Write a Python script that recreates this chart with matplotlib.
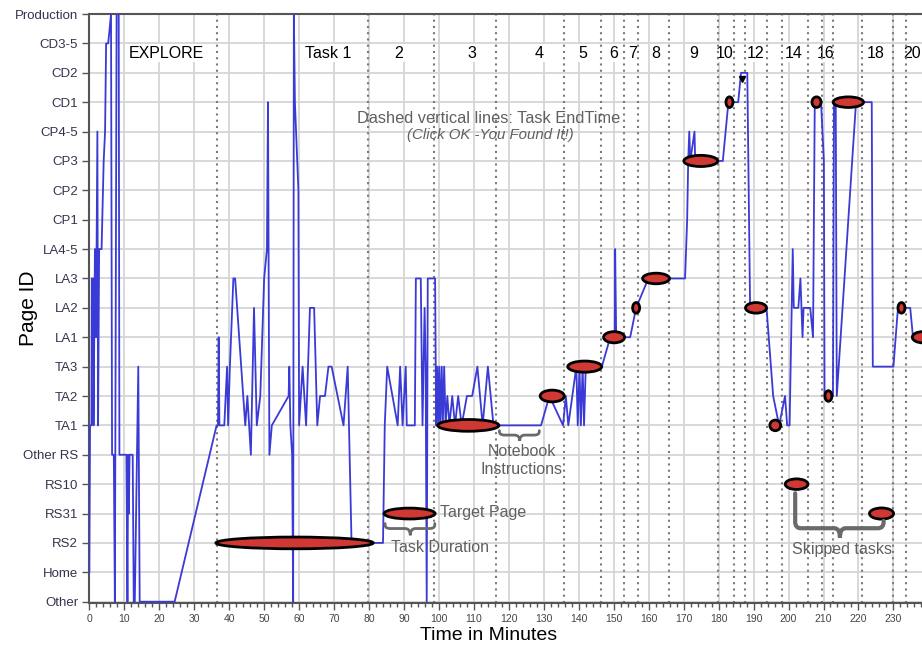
import numpy as np
import matplotlib
matplotlib.use("Agg")
import matplotlib.pyplot as plt
from matplotlib.patches import Ellipse, PathPatch
from matplotlib.path import Path

plt.rcParams['font.family'] = ['Liberation Sans', 'DejaVu Sans']

page_labels = ['Other', 'Home', 'RS2', 'RS31', 'RS10', 'Other RS', 'TA1', 'TA2', 'TA3',
               'LA1', 'LA2', 'LA3', 'LA4-5', 'CP1', 'CP2', 'CP3', 'CP4-5', 'CD1', 'CD2',
               'CD3-5', 'Production']

# page visits (minute, page index) - explore phase
explore_time = [0.0, 0.2, 0.6, 0.7, 1.1, 1.2, 1.6, 1.9, 2.3, 2.5, 2.8, 3.5, 4.1, 4.5, 4.8,
                5.4, 6.2, 6.5, 7.0, 7.3, 7.8, 8.4, 8.6, 10.6, 10.9, 11.1, 11.3, 11.5, 12.4, 12.7,
                13.0, 14.0, 14.4, 24.4, 36.4]
explore_page = [1, 6, 6, 11, 11, 6, 12, 9, 16, 6, 12, 12, 15, 16, 19,
                19, 20, 5, 5, 0, 20, 20, 5, 5, 0, 5, 3, 5, 5, 0,
                0, 8, 0, 0, 6]

task1_time = [36.8, 37.0, 37.2, 38.6, 39.0, 39.4, 39.7, 40.2, 41.2, 41.7, 44.6, 45.2, 46.2, 47.1, 47.9,
              48.9, 50.0, 50.8, 51.1, 51.5, 52.2, 57.0, 57.2, 57.5, 58.0, 58.3, 58.5, 58.8, 59.8, 60.0,
              61.0, 62.0, 63.1, 64.3, 65.2, 66.0, 67.4, 68.4, 69.3, 72.7, 73.9, 75.0]
task1_page = [6, 9, 6, 6, 7, 8, 6, 8, 11, 11, 6, 7, 5, 10, 6,
              7, 11, 12, 17, 5, 6, 7, 8, 6, 5, 0, 20, 17, 14, 6,
              8, 6, 10, 10, 6, 7, 7, 8, 8, 6, 8, 2]

task2_time = [84.0, 84.5, 85.2, 88.2, 88.9, 89.6, 90.5, 90.8, 93.1, 93.4, 94.8, 95.3, 95.9, 96.2, 96.5,
              96.8, 98.9, 99.2, 99.5, 99.8, 100.1, 100.4, 100.8, 101.1, 101.5, 101.9, 102.4, 103.0,
              103.8, 104.6, 105.5, 106.5, 108.0, 109.5, 111.0, 112.5, 114.0, 115.6]
task2_page = [2, 6, 8, 6, 8, 6, 8, 6, 6, 11, 11, 6, 10, 8, 0,
              11, 11, 6, 8, 6, 8, 6, 8, 6, 8, 6, 7, 6,
              7, 6, 7, 6, 7, 7, 8, 6, 8, 6]

later_time = [129.2, 131.6, 135.5, 136.3, 137.0, 139.3, 139.7, 140.2, 140.6, 141.1, 141.5, 142.0,
              146.6, 149.0, 150.3, 150.4, 150.7, 151.2, 154.7, 156.4, 159.9, 170.4, 171.0, 171.3,
              171.6, 171.9, 173.1, 173.3, 181.2, 182.8, 185.6, 186.4, 188.2, 189.0, 193.7, 195.6,
              197.3, 199.0, 199.6, 200.3, 201.2, 201.5, 202.8, 203.4, 204.0, 204.3, 206.2, 207.0,
              207.5, 209.3, 210.1, 210.3, 212.7, 213.0, 213.5, 213.8, 219.3, 223.8, 224.1, 230.0,
              231.3, 234.8, 235.6, 238.5]
later_page = [6, 7, 6, 7, 6, 8, 6, 8, 6, 8, 6, 8,
              8, 9, 9, 12, 9, 9, 9, 10, 11, 11, 13, 15,
              16, 15, 16, 15, 15, 17, 17, 18, 18, 10, 10, 7,
              6, 7, 6, 6, 12, 10, 10, 11, 9, 10, 10, 9,
              17, 17, 15, 7, 7, 17, 17, 7, 17, 17, 8, 8,
              10, 10, 9, 9]

task_end = [36.4, 79.6, 98.6, 116.3, 135.8, 146.4, 153.0, 157.0, 165.8, 179.7, 184.5, 187.5,
            193.7, 198.1, 205.6, 209.5, 212.6, 221.1, 230.0, 233.5]
task_names = ['EXPLORE', 'Task 1', '2', '3', '4', '5', '6', '7', '8', '9', '10', '12',
              '14', '16', '18', '20']
task_name_x = [21.9, 68.3, 88.6, 109.4, 128.6, 141.1, 150.1, 155.3, 162.0, 173.0, 181.8, 190.6,
               201.4, 210.6, 225.0, 235.4]

# target pages (red ovals)
target_time = [58.7, 91.6, 108.4, 132.4, 141.7, 150.1, 156.4, 162.1, 174.9, 183.1, 190.7,
               196.2, 202.3, 208.0, 211.4, 217.1, 226.6, 232.3, 238.4]
target_page = [2, 3, 6, 7, 8, 9, 10, 11, 15, 17, 10, 6, 4, 17, 7, 17, 3, 10, 9]
target_width = [45.0, 14.6, 17.5, 6.9, 9.7, 6.0, 2.0, 7.7, 9.7, 2.0, 6.0, 3.1, 6.5, 2.6,
                2.0, 8.7, 6.9, 2.0, 6.0]
target_height = [0.40, 0.37, 0.40, 0.40, 0.38, 0.38, 0.36, 0.36, 0.38, 0.36, 0.36, 0.36, 0.36,
                 0.36, 0.36, 0.36, 0.38, 0.36, 0.38]

found_x = [186.8]
found_y = [17.78]

line_col = '#3a3ad6'
gray_txt = '#606060'


def brace(ax, x0, x1, xm, y_left, y_right, y_bar, y_tip, rx, ry, lw):
    verts = [(x0, y_left), (x0, y_bar + ry), (x0, y_bar), (x0 + rx, y_bar),
             (xm - rx, y_bar), (xm, y_bar), (xm, y_tip), (xm, y_bar), (xm + rx, y_bar),
             (x1 - rx, y_bar), (x1, y_bar), (x1, y_bar + ry), (x1, y_right)]
    codes = [Path.MOVETO, Path.LINETO, Path.CURVE3, Path.CURVE3,
             Path.LINETO, Path.CURVE3, Path.CURVE3, Path.CURVE3, Path.CURVE3,
             Path.LINETO, Path.CURVE3, Path.CURVE3, Path.LINETO]
    ax.add_patch(PathPatch(Path(verts, codes), fc='none', ec='#6a6a6a', lw=lw,
                           capstyle='round', zorder=5))


fig = plt.figure(figsize=(9.22, 6.49), dpi=100)
ax = fig.add_axes([0.0969, 0.0704, 0.9032, 0.908])
ax.set_xlim(0, 238.2)
ax.set_ylim(-0.055, 20)

ax.set_yticks(range(len(page_labels)))
ax.set_yticklabels(page_labels, fontsize=9.5, color='#34344e')
ax.set_xticks(np.arange(0, 240, 10))
ax.set_xticks(np.arange(0, 239, 2), minor=True)
ax.tick_params(axis='x', which='major', labelsize=7.5, labelcolor='#444444', length=5,
               width=1, color='#555555', pad=3)
ax.tick_params(axis='x', which='minor', length=3, width=1, color='#555555')
ax.tick_params(axis='y', length=5, width=1, color='#555555', pad=3)
ax.grid(True, which='major', color='#d6d6d6', lw=1.3)
ax.set_axisbelow(True)
for s in ['top', 'left', 'bottom']:
    ax.spines[s].set_color('#555555')
    ax.spines[s].set_linewidth(1.5)
ax.spines['right'].set_visible(False)

for t in task_end:
    ax.axvline(t, color='#7a7a7a', ls=(0, (1, 2)), lw=1.5, zorder=2)

for x, name in zip(task_name_x, task_names):
    ax.text(x, 18.67, name, ha='center', va='center', fontsize=11.5, color='black',
            bbox=dict(fc='white', ec='none', pad=1), zorder=1.5, clip_on=False)

visit_time = explore_time + task1_time + task2_time + later_time
visit_page = explore_page + task1_page + task2_page + later_page
ax.plot(visit_time, visit_page, color=line_col, lw=1.3, zorder=3)

for x, y, w, h in zip(target_time, target_page, target_width, target_height):
    ax.add_patch(Ellipse((x, y), w, h, fc='#cf3833', ec='black', lw=2, zorder=4))

ax.plot(found_x, found_y, marker='v', color='black', ms=4, ls='none', zorder=5)

ax.text(114.3, 16.45, 'Dashed vertical lines: Task EndTime', ha='center', va='center',
        fontsize=11.8, color=gray_txt, zorder=6)
ax.text(114.8, 15.88, '(Click OK -You Found It!)', ha='center', va='center',
        fontsize=10.8, style='italic', color=gray_txt, zorder=6)

ax.text(100.3, 3.02, 'Target Page', ha='left', va='center', fontsize=11.5, color=gray_txt, zorder=6)
ax.text(86.3, 1.83, 'Task Duration', ha='left', va='center', fontsize=11.5, color=gray_txt, zorder=6)
ax.text(123.7, 4.81, 'Notebook\nInstructions', ha='center', va='center', fontsize=11.5,
        color=gray_txt, linespacing=1.25, zorder=6)
ax.text(215.2, 1.78, 'Skipped tasks', ha='center', va='center', fontsize=11.5,
        color=gray_txt, zorder=6)

brace(ax, 84.6, 98.8, 91.8, 2.66, 2.66, 2.49, 2.26, 1.5, 0.12, 2)
brace(ax, 117.3, 128.7, 123.1, 5.82, 5.82, 5.67, 5.47, 1.5, 0.12, 2)
brace(ax, 201.9, 227.2, 214.7, 3.69, 2.75, 2.50, 2.18, 1.6, 0.22, 3)

ax.set_xlabel('Time in Minutes', fontsize=14, color='black')
ax.xaxis.set_label_coords(0.48, -0.040)
ax.set_ylabel('Page ID', fontsize=15, color='black')
ax.yaxis.set_label_coords(-0.062, 0.5)

fig.savefig('out.png', dpi=100)
